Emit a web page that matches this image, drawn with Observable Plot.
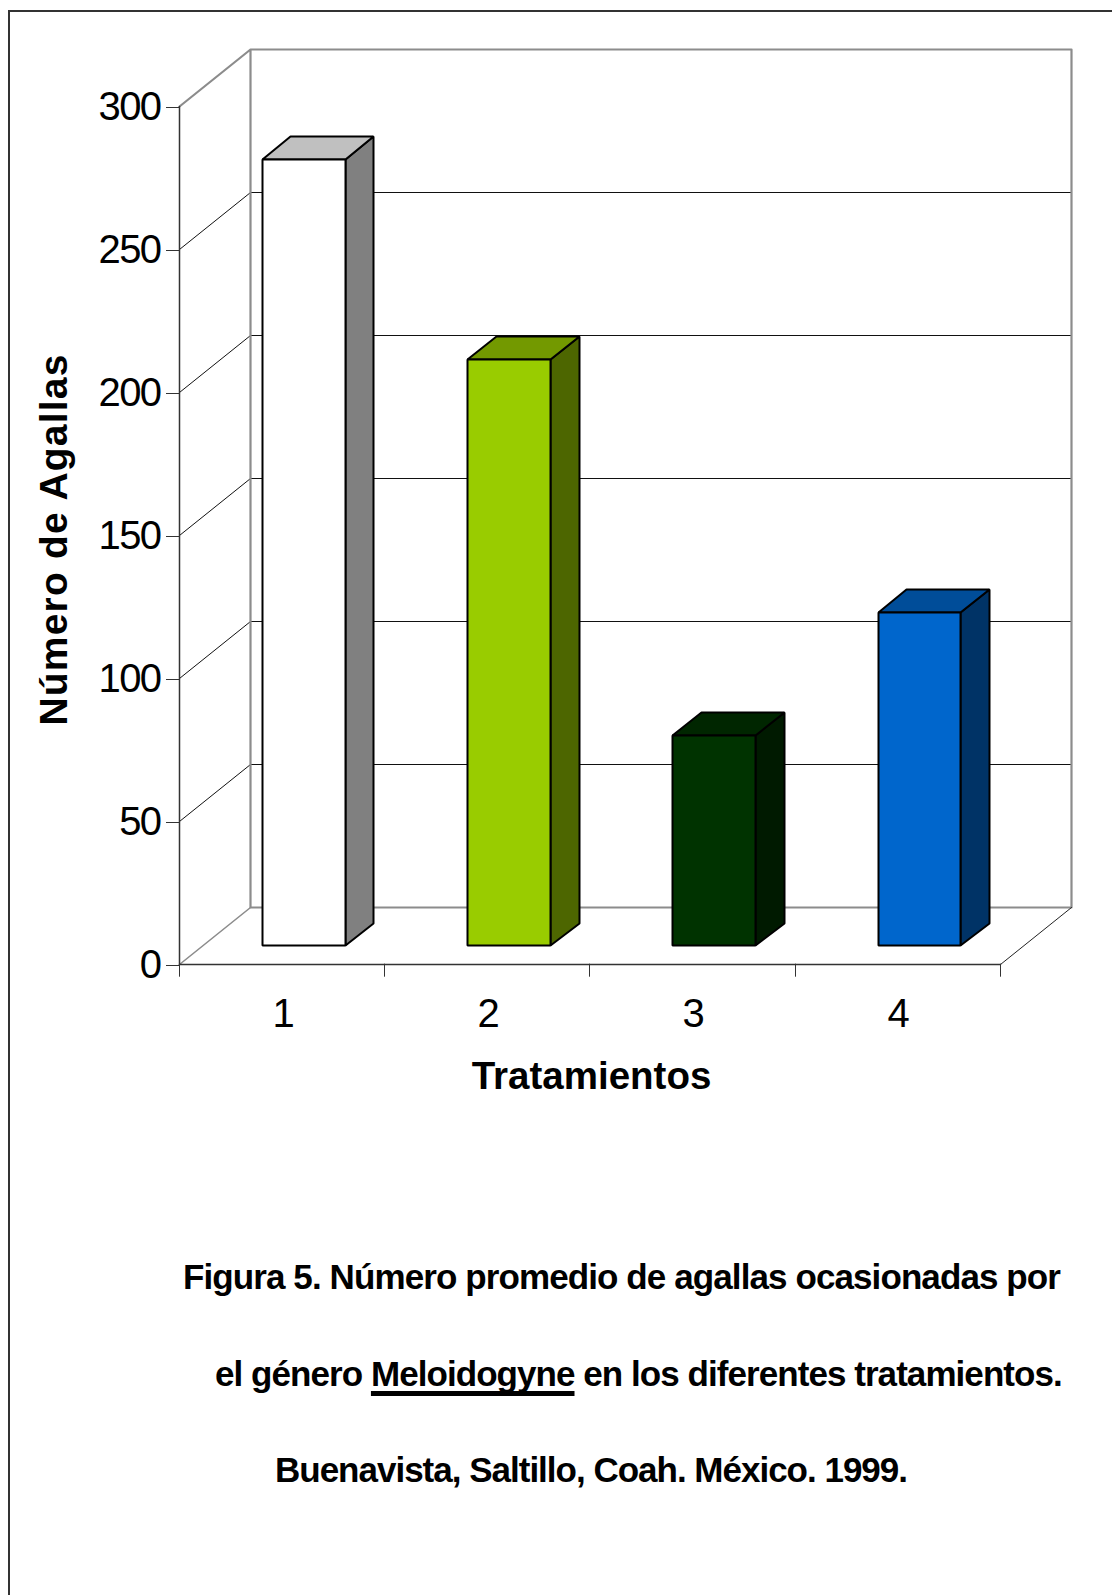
<!DOCTYPE html>
<html lang="es">
<head>
<meta charset="utf-8">
<script src="https://cdn.jsdelivr.net/npm/d3@7"></script>
<script src="https://cdn.jsdelivr.net/npm/@observablehq/plot@0.6"></script>
<style>
  html, body { margin: 0; padding: 0; background: #fff; overflow: hidden; }
  #page { position: relative; width: 1112px; height: 1595px; overflow: hidden; font-family: "Liberation Sans", Arial, sans-serif; }
  #frame { position: absolute; left: 8px; top: 10px; width: 1200px; height: 1700px; border: 2px solid #333; box-sizing: border-box; }
  #chart { position: absolute; left: 0; top: 0; }
  #chart svg { background: transparent; display: block; }
  #chart g[aria-label="y-axis tick label"] text { letter-spacing: -1.6px; }
  .caption { position: absolute; margin: 0; font-weight: bold; font-size: 35px; line-height: 40px; color: #000; white-space: nowrap; letter-spacing: -0.9px; }
  .caption u { text-decoration-thickness: 5px; text-underline-offset: 5px; text-decoration-skip-ink: none; }
</style>
</head>
<body>
<div id="page">
  <div id="frame"></div>
  <div id="chart"></div>
  <p class="caption" style="left:183px; top:1257px">Figura 5. Número promedio de agallas ocasionadas por</p>
  <p class="caption" style="left:215px; top:1354px; letter-spacing:-0.94px">el género <u>Meloidogyne</u> en los diferentes tratamientos.</p>
  <p class="caption" style="left:275px; top:1450px; letter-spacing:-1px">Buenavista, Saltillo, Coah. México. 1999.</p>
</div>
<script>
// Mean gall counts per treatment
const tratamientos = [1, 2, 3, 4];
const agallas = [275, 205, 73.6, 116.7];
const yTicks = [0, 50, 100, 150, 200, 250, 300];
const slotEdges = [0.5, 1.5, 2.5, 3.5, 4.5];
const fillFront = ["#ffffff", "#99cc00", "#003300", "#0066cc"];
const fillTop = ["#c0c0c0", "#739900", "#002600", "#004d99"];
const fillSide = ["#808080", "#4d6600", "#001a00", "#003366"];

// Oblique projection: depth 0 is the front plane, depth 1 the back wall
const depthX = 0.346;
const depthY = 19.9;
const project = (x, y, z) => ({x: x + z * depthX, y: y + z * depthY});

const X0 = 0.5, X1 = 4.5, YMAX = 300;
const barFront = 0.323, barBack = 0.723, barHalf = 0.202, barShift = -0.005;

const GRAY = "#8c8c8c";
const font = "Liberation Sans, Arial, sans-serif";
const path = (points, options) => Plot.line(points.map(([x, y, z]) => project(x, y, z)), {x: "x", y: "y", ...options});

// Back wall, floor edges and left-wall diagonals
const walls = [
  ...yTicks.filter((v) => v > 0 && v < YMAX).map((v) =>
    path([[X0, v, 0], [X0, v, 1], [X1, v, 1]], {stroke: "#111", strokeWidth: 1})
  ),
  path([[X0, YMAX, 0], [X0, YMAX, 1], [X1, YMAX, 1], [X1, 0, 1], [X0, 0, 1], [X0, YMAX, 1]], {stroke: GRAY, strokeWidth: 2.2}),
  path([[X0, 0, 0], [X0, 0, 1]], {stroke: GRAY, strokeWidth: 1.6}),
  path([[X1, 0, 0], [X1, 0, 1]], {stroke: "#222", strokeWidth: 1}),
  path([[X0, 0, 0], [X0, YMAX, 0]], {stroke: "#333", strokeWidth: 1.5}),
  path([[X0, 0, 0], [X1, 0, 0]], {stroke: "#333", strokeWidth: 1.5})
];

// Each bar is drawn as its side, top and front faces
const bars = tratamientos.flatMap((t, i) => {
  const c = t + barShift;
  const l = c - barHalf, r = c + barHalf, v = agallas[i];
  const face = (pts, fill) => path(pts, {fill, stroke: "#000", strokeWidth: 2, curve: "linear-closed", strokeLinejoin: "miter"});
  return [
    face([[r, 0, barFront], [r, 0, barBack], [r, v, barBack], [r, v, barFront]], fillSide[i]),
    face([[l, v, barFront], [l, v, barBack], [r, v, barBack], [r, v, barFront]], fillTop[i]),
    face([[l, 0, barFront], [r, 0, barFront], [r, v, barFront], [l, v, barFront]], fillFront[i])
  ];
});

const chart = Plot.plot({
  width: 1112,
  height: 1120,
  marginLeft: 179,
  marginRight: 112.3,
  marginTop: 106,
  marginBottom: 156.3,
  style: {fontFamily: font, color: "#000", background: "transparent", overflow: "visible"},
  x: {domain: [X0, X1], label: null, round: true},
  y: {domain: [0, YMAX], label: null, round: true},
  marks: [
    ...walls,
    Plot.axisY({ticks: yTicks, tickSize: 13, tickPadding: 6, fontSize: 40, dy: 1, stroke: "#333", strokeWidth: 1, fill: "#000", label: null, tickFormat: (d) => `${d}`}),
    Plot.axisX({ticks: slotEdges, tickSize: 13, stroke: "#333", strokeWidth: 1, label: null, tickFormat: () => ""}),
    Plot.axisX({ticks: tratamientos, tickSize: 0, tickPadding: 33, fontSize: 40, dx: 1, dy: 1, fill: "#000", label: null, tickFormat: (d) => `${d}`}),
    ...bars,
    Plot.text(["Tratamientos"], {x: 2.508, y: -39.4, text: (d) => d, fontSize: 38.5, fontWeight: "bold", fontFamily: font, fill: "#000"}),
    Plot.text(["Número de Agallas"], {x: -0.109, y: 148.7, text: (d) => d, rotate: -90, fontSize: 39, fontWeight: "bold", fontFamily: font, fill: "#000"})
  ]
});
document.getElementById("chart").appendChild(chart);

// The vertical axis title runs a little wider than its natural setting
d3.select(chart).selectAll("text").filter(function () { return this.textContent === "Número de Agallas"; }).style("letter-spacing", "1.2px");
</script>
</body>
</html>
